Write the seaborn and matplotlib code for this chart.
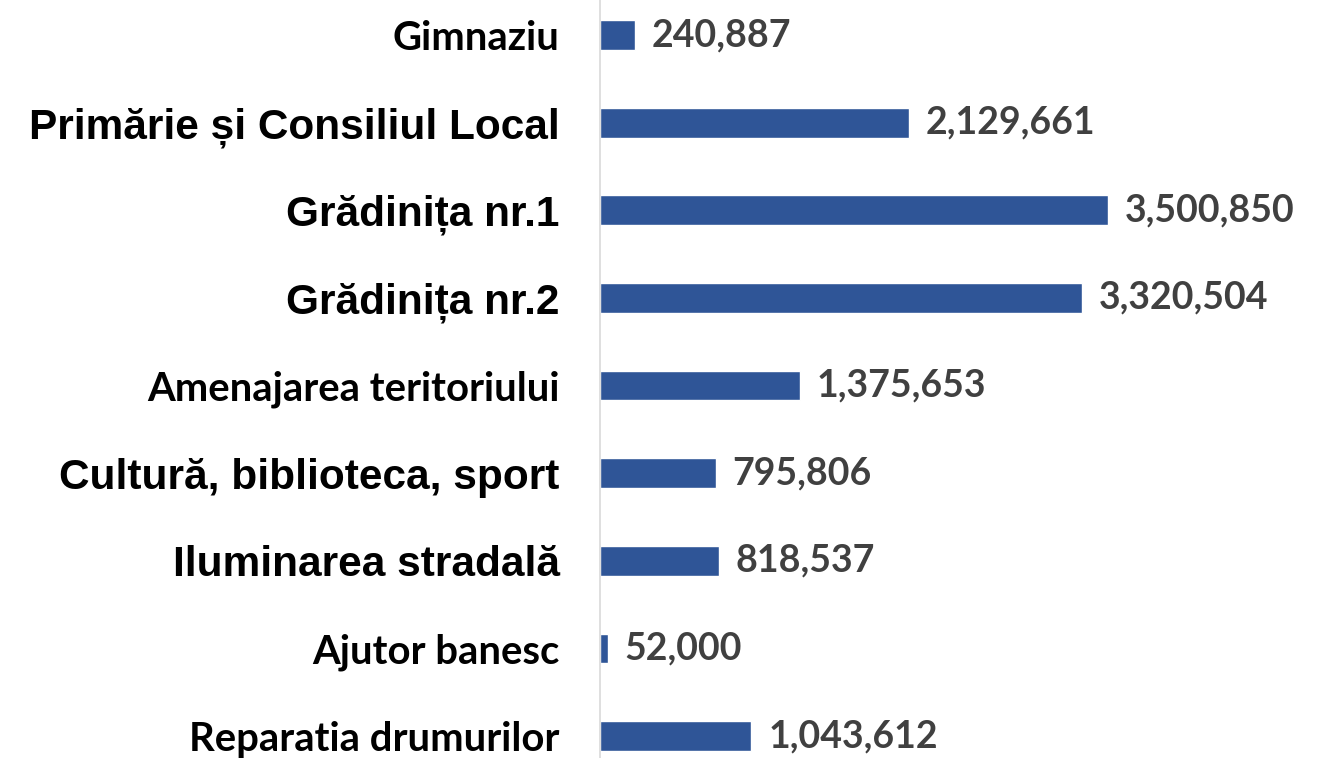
import numpy as np
import pandas as pd
import seaborn as sns
import matplotlib.pyplot as plt

sns.set_style("white")

categories = ['Gimnaziu', 'Primărie și Consiliul Local', 'Grădinița nr.1', 'Grădinița nr.2',
              'Amenajarea teritoriului', 'Cultură, biblioteca, sport', 'Iluminarea stradală',
              'Ajutor banesc', 'Reparatia drumurilor']
values = [240887, 2129661, 3500850, 3320504, 1375653, 795806, 818537, 52000, 1043612]
big_labels = ['Primărie și Consiliul Local', 'Grădinița nr.1', 'Grădinița nr.2',
              'Cultură, biblioteca, sport', 'Iluminarea stradală']

df = pd.DataFrame({'cat': categories, 'val': values})

fig = plt.figure(figsize=(13.2, 7.58), dpi=100)
ax = fig.add_axes([600 / 1320, 0, 720 / 1320, 1])

sns.barplot(data=df, y='cat', x='val', orient='h', color='#2F5597',
            width=0.34, ax=ax, saturation=1)

ax.set_xlim(0, 4.96e6)
ax.set_ylim(8.25, -0.40)
ax.set_xlabel('')
ax.set_ylabel('')
ax.set_xticks([])

for s in ['top', 'right', 'bottom']:
    ax.spines[s].set_visible(False)
ax.spines['left'].set_color('#D9D9D9')
ax.spines['left'].set_linewidth(1.2)

ax.tick_params(axis='y', length=0, pad=29)
for lbl in ax.get_yticklabels():
    if lbl.get_text() in big_labels:
        lbl.set_family(['Liberation Sans', 'DejaVu Sans'])
        lbl.set_fontsize(30.5)
    else:
        lbl.set_family(['Lato', 'DejaVu Sans'])
        lbl.set_fontsize(28.8)
    lbl.set_fontweight('bold')
    lbl.set_color('black')

ax.bar_label(ax.containers[0], labels=[f'{v:,}' for v in values], padding=12,
             fontsize=27, fontweight='bold', color='#404040', family=['Lato', 'DejaVu Sans'])

plt.savefig('out.png', dpi=100)
plt.close()
